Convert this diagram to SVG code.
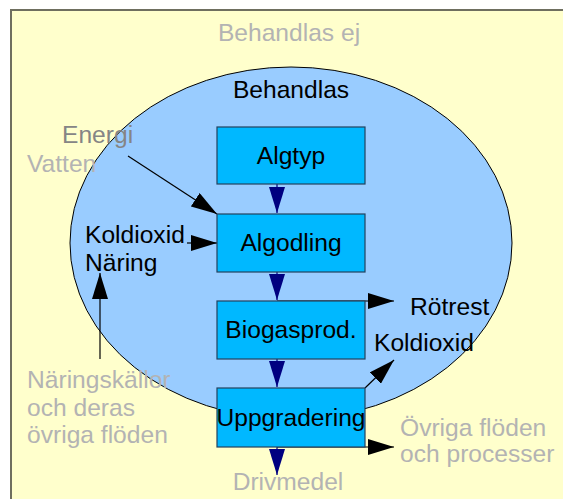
<svg xmlns="http://www.w3.org/2000/svg" width="563" height="499" viewBox="0 0 563 499">
<style>
text{font-family:"Liberation Sans",Arial,sans-serif;font-size:24.6px}
.box{fill:#00b8ff;stroke:#23425e;stroke-width:1.2}
.out{fill:#b3b3b3}
.in{fill:#000}
.nav{stroke:#000080;stroke-width:1.2;fill:none}
.blk{stroke:#000;stroke-width:1.2;fill:none}
</style>
<defs>
<marker id="hn" viewBox="0 0 26 16" refX="26" refY="8" markerWidth="26" markerHeight="16" markerUnits="userSpaceOnUse" orient="auto"><path d="M0,0L26,8L0,16Z" fill="#000080"/></marker>
<marker id="hb" viewBox="0 0 26 16" refX="26" refY="8" markerWidth="26" markerHeight="16" markerUnits="userSpaceOnUse" orient="auto"><path d="M0,0L26,8L0,16Z" fill="#000"/></marker>
</defs>
<rect width="563" height="499" fill="#fff"/>
<g id="bg">
<rect x="11" y="10" width="600" height="600" fill="#ffffcc" stroke="#6f6f5f" stroke-width="2"/>
<text class="out" x="289" y="41" text-anchor="middle">Behandlas ej</text>
</g>
<g id="behandlas">
<ellipse cx="291" cy="243" rx="221" ry="176" fill="#99ccff" stroke="#000" stroke-width="1"/>
<text class="in" x="291" y="98" text-anchor="middle">Behandlas</text>
</g>
<g id="connectors">
<line class="nav" x1="277" y1="184" x2="277" y2="213" marker-end="url(#hn)"/>
<line class="nav" x1="277" y1="272" x2="277" y2="300" marker-end="url(#hn)"/>
<line class="nav" x1="277" y1="359" x2="277" y2="387" marker-end="url(#hn)"/>
<line class="nav" x1="277" y1="447" x2="277" y2="475" marker-end="url(#hn)"/>
<line class="blk" x1="128" y1="156" x2="217" y2="214" marker-end="url(#hb)"/>
<line class="blk" x1="187" y1="243" x2="217" y2="243" marker-end="url(#hb)"/>
<line class="blk" x1="100" y1="359" x2="100" y2="273" marker-end="url(#hb)"/>
<polyline class="blk" points="277,301 394,301" marker-end="url(#hb)"/>
<line class="blk" x1="365" y1="388" x2="394" y2="360" marker-end="url(#hb)"/>
<polyline class="blk" points="277,447 394,447" marker-end="url(#hb)"/>
</g>
<g id="algtyp"><rect class="box" x="217" y="127" width="148" height="57"/><text class="in" x="291" y="164" text-anchor="middle">Algtyp</text></g>
<g id="algodling"><rect class="box" x="217" y="214" width="148" height="58"/><text class="in" x="291" y="251" text-anchor="middle">Algodling</text></g>
<g id="biogasprod"><rect class="box" x="217" y="301" width="148" height="58"/><text class="in" x="291" y="338" text-anchor="middle">Biogasprod.</text></g>
<g id="uppgradering"><rect class="box" x="217" y="388" width="148" height="59"/><text class="in" x="291" y="426" text-anchor="middle">Uppgradering</text></g>
<g id="labels">
<text x="62" y="143" fill="#858585">Energi</text>
<text class="out" x="27" y="172">Vatten</text>
<text class="in" x="85" y="243">Koldioxid</text>
<text class="in" x="85" y="271">Näring</text>
<text class="out" x="27" y="388">Näringskällor</text>
<text class="out" x="27" y="416">och deras</text>
<text class="out" x="27" y="443">övriga flöden</text>
<text class="in" x="410" y="315">Rötrest</text>
<text class="in" x="374" y="351">Koldioxid</text>
<text class="out" x="400" y="436">Övriga flöden</text>
<text class="out" x="400" y="462">och processer</text>
<text class="out" x="288" y="490" text-anchor="middle">Drivmedel</text>
</g>
</svg>
